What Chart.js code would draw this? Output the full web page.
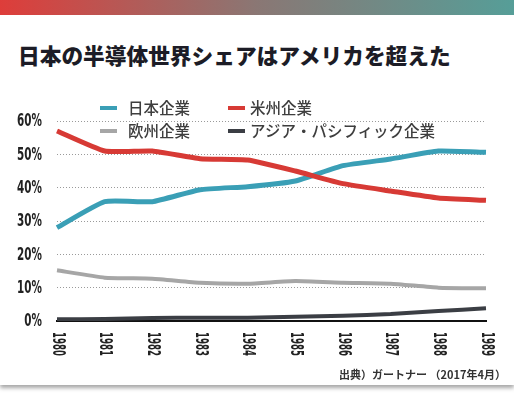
<!DOCTYPE html>
<html lang="ja">
<head>
<meta charset="utf-8">
<script src="https://cdn.jsdelivr.net/npm/chart.js@4"></script>
<style>
    html, body { margin: 0; padding: 0; background: #fff; }
    body { width: 514px; height: 393px; overflow: hidden; position: relative; }
    .card {
        position: absolute; left: 0; top: 0; width: 514px; height: 385px;
        background: #fff; box-shadow: 0 3px 4px rgba(0, 0, 0, 0.35);
    }
    .topbar {
        position: absolute; left: 0; top: 0; width: 514px; height: 15px;
        background: linear-gradient(to right, #de3d3a, #8a7774 50%, #569e98);
    }
    .title {
        position: absolute; left: 18px; top: 39px;
        font-family: 'Noto Sans CJK JP', sans-serif; font-weight: 900;
        font-size: 21.7px; line-height: 32px; color: #1c1c26; white-space: nowrap;
    }
    .legend {
        position: absolute; left: 0; top: 0; width: 514px; height: 150px;
        font-family: 'Noto Sans CJK JP', sans-serif; font-weight: 500;
        font-size: 15.5px; color: #3e3e3e;
    }
    .legend .item { position: absolute; white-space: nowrap; line-height: 20px; }
    .legend .mark { position: absolute; width: 17px; height: 4px; top: 8px; }
    .legend .text { position: absolute; top: -1px; }
    .source {
        position: absolute; right: 8px; top: 366px;
        font-family: 'Noto Sans CJK JP', sans-serif; font-weight: 700;
        font-size: 11px; color: #333; white-space: nowrap;
    }
    #chart { position: absolute; left: 0; top: 0; }
</style>
</head>
<body>
<div class="card"></div>
<div class="topbar"></div>
<div class="title">日本の半導体世界シェアはアメリカを超えた</div>
<canvas id="chart" width="514" height="393"></canvas>
<div class="legend" id="legend"></div>
<div class="source">出典）ガートナー （2017年4月）</div>
<script>
// 年
const years = ['1980', '1981', '1982', '1983', '1984', '1985', '1986', '1987', '1988', '1989'];

// シェア (%)
const japan = [28, 35.8, 35.8, 39.4, 40.3, 42, 46.6, 48.6, 51, 50.6];
const americas = [57, 51, 51, 48.7, 48.3, 45, 41.2, 39, 36.9, 36.2];
const europe = [15.2, 13, 12.7, 11.5, 11.2, 12, 11.5, 11.2, 10, 9.8];
const asiaPacific = [0.5, 0.6, 0.9, 1, 1, 1.3, 1.6, 2.1, 3, 3.8];

const seriesNames = ['日本企業', '米州企業', '欧州企業', 'アジア・パシフィック企業'];
const yTicks = [0, 10, 20, 30, 40, 50, 60];

const colors = ['#3a9fb6', '#d73a35', '#a6a6a6', '#3b3e44'];
const widths = [5, 5, 4, 4];

const numFont = "'DejaVu Sans Condensed', 'DejaVu Sans', sans-serif";

// HTML legend (overlaps the plot like the original)
const legendPos = [[100, 98], [211, 98], [100, 121], [211, 121]];
const legendEl = document.getElementById('legend');
seriesNames.forEach((name, i) => {
    const item = document.createElement('div');
    item.className = 'item';
    item.style.left = legendPos[i][0] + 'px';
    item.style.top = legendPos[i][1] + 'px';
    const textLeft = i % 2 === 0 ? 28 : 39;
    item.innerHTML = '<span class="mark" style="background:' + colors[i] + ';left:' + (i % 2 === 0 ? 0 : 17) + 'px"></span>' +
        '<span class="text" style="left:' + textLeft + 'px">' + name + '</span>';
    legendEl.appendChild(item);
});

// condensed axis labels: y on the left, x rotated clockwise (top to bottom)
const condensedLabels = {
    id: 'condensedLabels',
    afterDraw(chart) {
        const ctx = chart.ctx;
        const xs = chart.scales.x;
        const ys = chart.scales.y;
        const { left, bottom } = chart.chartArea;
        ctx.save();
        ctx.fillStyle = '#222';
        ctx.font = 'bold 17px ' + numFont;
        ctx.textBaseline = 'middle';

        ctx.textAlign = 'right';
        yTicks.forEach(v => {
            ctx.save();
            ctx.translate(left - 15, ys.getPixelForValue(v) + 1);
            ctx.scale(0.68, 1);
            ctx.fillText(v + '%', 0, 0);
            ctx.restore();
        });

        ctx.textAlign = 'left';
        years.forEach((label, i) => {
            ctx.save();
            ctx.translate(xs.getPixelForTick(i), bottom + 11);
            ctx.rotate(Math.PI / 2);
            ctx.scale(0.56, 1);
            ctx.fillText(label, 0, 0);
            ctx.restore();
        });
        ctx.restore();
    }
};

new Chart(document.getElementById('chart'), {
    type: 'line',
    data: {
        labels: years,
        datasets: [japan, americas, europe, asiaPacific].map((d, i) => ({
            label: seriesNames[i],
            data: d,
            borderColor: colors[i],
            backgroundColor: colors[i],
            borderWidth: widths[i],
            pointRadius: 0,
            tension: 0.15,
            borderJoinStyle: 'round',
            borderCapStyle: 'butt',
            order: 4 - i
        }))
    },
    options: {
        responsive: false,
        animation: false,
        layout: { padding: { top: 121, right: 28, bottom: 72, left: 0 } },
        plugins: {
            legend: { display: false },
            tooltip: { enabled: false }
        },
        scales: {
            x: {
                offset: false,
                ticks: { display: false },
                grid: { display: false, drawTicks: false },
                border: { display: true, color: '#111', width: 2 },
                afterFit: s => { s.height = 0; }
            },
            y: {
                min: 0,
                max: 60,
                afterBuildTicks: s => { s.ticks = yTicks.map(v => ({ value: v })); },
                afterFit: s => { s.width = 57; },
                ticks: { display: false },
                grid: { color: '#9a9a9a', lineWidth: 1, drawTicks: false },
                border: { display: false, dash: [1, 2] }
            }
        }
    },
    plugins: [condensedLabels]
});
</script>
</body>
</html>
